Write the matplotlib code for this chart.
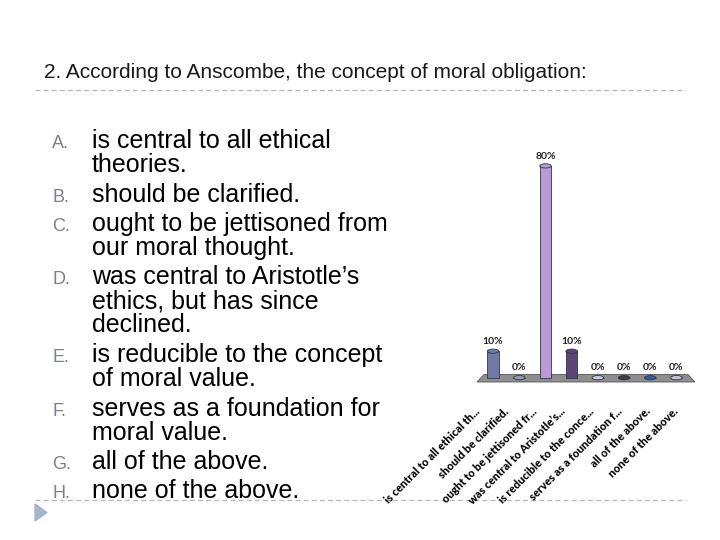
import matplotlib.pyplot as plt
import numpy as np
from matplotlib.patches import Ellipse, Polygon

# data
title = '2. According to Anscombe, the concept of moral obligation:'
letters = ['A.', 'B.', 'C.', 'D.', 'E.', 'F.', 'G.', 'H.']
answers = [
    ['is central to all ethical', 'theories.'],
    ['should be clarified.'],
    ['ought to be jettisoned from', 'our moral thought.'],
    ['was central to Aristotle\u2019s', 'ethics, but has since', 'declined.'],
    ['is reducible to the concept', 'of moral value.'],
    ['serves as a foundation for', 'moral value.'],
    ['all of the above.'],
    ['none of the above.'],
]
short_labels = ['is central to all ethical th...', 'should be clarified.',
                'ought to be jettisoned fr...', 'was central to Aristotle\u2019s...',
                'is reducible to the conce...', 'serves as a foundation f...',
                'all of the above.', 'none of the above.']
percent = [10, 0, 80, 10, 0, 0, 0, 0]
bar_colors = ['#6f7ba6', '#8c9cc0', '#b89ad6', '#5b4677',
              '#c6cfe0', '#3f3f46', '#2e5f9e', '#c3c8d8']

W, H = 720, 540
fig = plt.figure(figsize=(7.2, 5.4), dpi=100)
fig.patch.set_facecolor('white')

# full-figure layer in pixel units for the slide text
bg = fig.add_axes([0, 0, 1, 1])
bg.set_xlim(0, W)
bg.set_ylim(H, 0)
bg.axis('off')

bg.text(44, 72, title, fontsize=15, family='Liberation Sans',
        color='#1a1a1a', va='center', ha='left')
for yy in (90, 500):
    bg.plot([35, 686], [yy, yy], color='#b8b8b8', lw=0.9,
            ls=(0, (4, 2.5)), zorder=1)

# bullet list (y = baseline of each line)
y = 148
for i, (let, lines) in enumerate(zip(letters, answers)):
    bg.text(52, y, let, fontsize=13, family='Liberation Sans',
            color='#7a7f8c', va='baseline', ha='left', zorder=3)
    for j, line in enumerate(lines):
        bg.text(92, y, line, fontsize=18, family='Liberation Sans',
                color='black', va='baseline', ha='left', zorder=3)
        if j < len(lines) - 1:
            y += 24
    y += 29.5

# small triangle marker at bottom left
bg.add_patch(Polygon([[35, 504], [35, 521], [47, 512.5]],
                     closed=True, color='#a7b5cc', zorder=2))

# floor of the 3d chart
bg.add_patch(Polygon([[477, 382], [695, 382], [688, 374.5], [484, 374.5]],
                     closed=True, facecolor='#8e8e8e', edgecolor='#555555',
                     lw=0.6, zorder=2))

# chart axes
ax = fig.add_axes([470 / W, 1 - 383 / H, 230 / W, 233 / H])
ax.set_xlim(-0.88, 7.9)
ax.set_ylim(-2, 86)
ax.axis('off')
ax.patch.set_alpha(0)

x = np.arange(len(percent))
bw = 0.44
ax.bar(x, percent, width=bw, color=bar_colors, edgecolor='#333344',
       linewidth=0.6, zorder=3)
for xi, v, c in zip(x, percent, bar_colors):
    ax.add_patch(Ellipse((xi, v), bw, 1.6, facecolor=c, edgecolor='#333344',
                         lw=0.6, zorder=4))
    ax.text(xi, v + 2, f'{v}%', fontsize=7.5, fontweight='bold',
            family='Lato', color='#222222', ha='center', va='bottom')

# category labels, spread a little wider than the bars (perspective)
for xi, lab in zip(x, short_labels):
    ax.text(xi * 1.08 - 0.55, -12, lab, rotation=45, rotation_mode='anchor',
            ha='right', va='center', fontsize=8, fontweight='black',
            family='Lato', color='black', clip_on=False)

fig.savefig('out.png', dpi=100)
